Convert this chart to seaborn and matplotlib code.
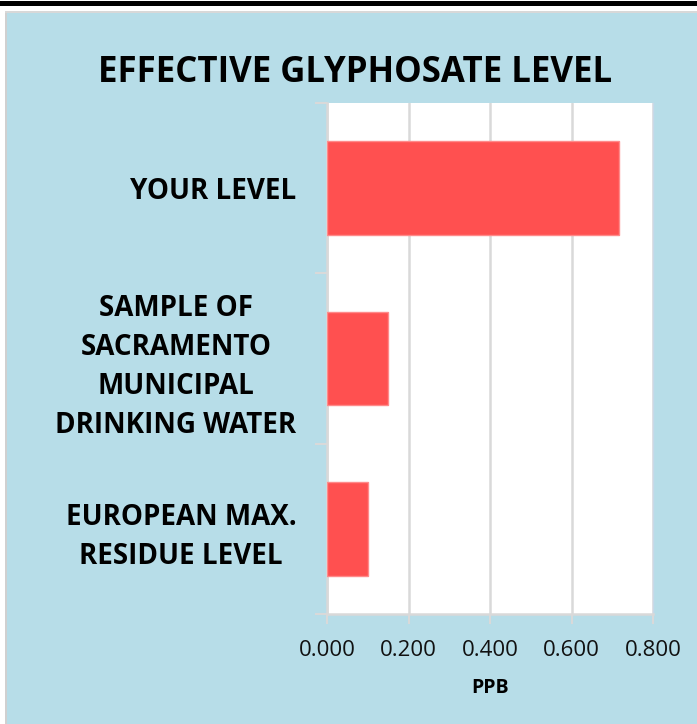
import matplotlib
matplotlib.use("Agg")
import matplotlib.pyplot as plt
import seaborn as sns
import pandas as pd
from matplotlib.patches import Rectangle

categories = ["YOUR LEVEL",
              "SAMPLE OF\nSACRAMENTO\nMUNICIPAL\nDRINKING WATER",
              "EUROPEAN MAX.\nRESIDUE LEVEL"]
values = [0.717, 0.150, 0.100]
xticks = [0.0, 0.2, 0.4, 0.6, 0.8]
xtick_labels = ["0.000", "0.200", "0.400", "0.600", "0.800"]
title = "EFFECTIVE GLYPHOSATE LEVEL"
xlabel = "PPB"

sns.set_theme(style="white")
plt.rcParams['font.family'] = ['Open Sans', 'DejaVu Sans']

W, H = 697, 724
fig = plt.figure(figsize=(W / 100, H / 100), dpi=100)
fig.patch.set_facecolor("white")

blue = "#B7DDE8"
# background panel
for r in [Rectangle((7 / W, 0), 1, 1 - 13 / H, facecolor=blue),
          Rectangle((5 / W, 0), 2 / W, 1 - 12 / H, facecolor="#D0D0D0"),
          Rectangle((5 / W, 1 - 13 / H), 1, 1.5 / H, facecolor="#D8D8D8"),
          Rectangle((0, 1 - 6 / H), 1, 4.5 / H, facecolor="black")]:
    r.set_transform(fig.transFigure)
    r.set_edgecolor("none")
    r.set_zorder(-10)
    fig.add_artist(r)

ax = fig.add_axes([327 / W, 1 - 614 / H, (653 - 327) / W, (614 - 103) / H])
ax.set_facecolor("white")

df = pd.DataFrame({"cat": categories, "val": values})
sns.barplot(data=df, x="val", y="cat", orient="h", color="#FF5050",
            width=0.55, edgecolor="#FF8A8A", linewidth=1, saturation=1, ax=ax, zorder=3)

ax.set_xlim(0, 0.8)
ax.set_ylim(2.5, -0.5)
ax.set_xticks(xticks)
ax.set_xticklabels(xtick_labels, fontsize=16, color="#111111")
ax.tick_params(axis="x", length=7, width=1.5, color="#D9D9D9", pad=12, direction="out", bottom=True)
ax.tick_params(axis="y", which="major", length=0, pad=22)
ax.set_yticks([-0.5, 0.5, 1.5, 2.5], minor=True)
ax.tick_params(axis="y", which="minor", length=9, width=1.5, color="#D9D9D9", left=True)
for t in ax.get_yticklabels():
    t.set_multialignment("center")
    t.set_fontsize(20)
    t.set_fontweight("bold")
    t.set_linespacing(1.45)
    t.set_color("black")
ax.set_xlabel("")
ax.set_ylabel("")
ax.grid(axis="x", color="#D9D9D9", linewidth=1.8, zorder=0)
ax.set_axisbelow(True)
ax.spines["top"].set_visible(False)
ax.spines["right"].set_color("#C8D8E8")
ax.spines["right"].set_linewidth(1)
ax.spines["left"].set_color("#D9D9D9")
ax.spines["left"].set_linewidth(1.8)
ax.spines["bottom"].set_color("#D9D9D9")
ax.spines["bottom"].set_linewidth(1.8)

fig.text(355 / W, 1 - 82 / H, title, ha="center", va="baseline",
         fontsize=25, fontweight="bold", color="black")
fig.text(490 / W, 1 - 693 / H, xlabel, ha="center", va="baseline",
         fontsize=14, fontweight="bold", color="black")

fig.savefig("out.png", dpi=100, facecolor=fig.get_facecolor())
